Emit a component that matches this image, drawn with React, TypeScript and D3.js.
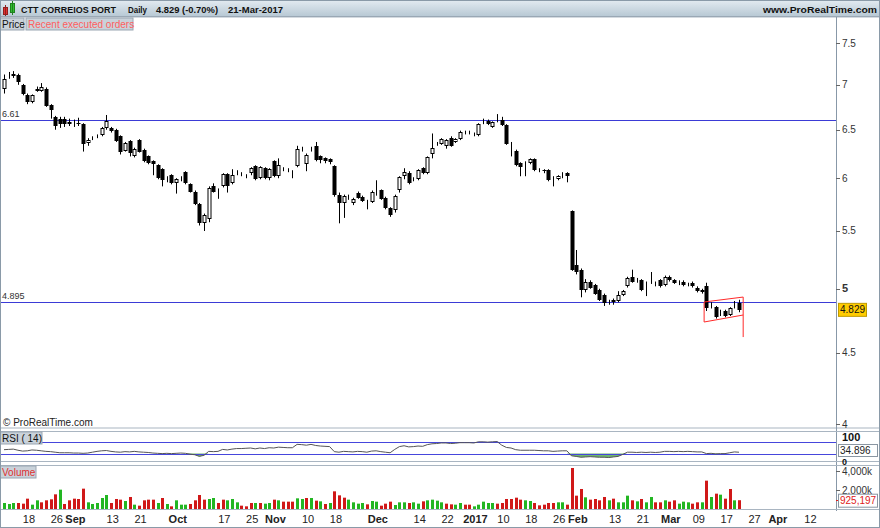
import * as d3 from 'd3'

// daily candles, Aug 10 2016 .. Mar 21 2017  [open, high, low, close]
const candles: [number, number, number, number][] = [
  [6.95, 7.12, 6.9, 7.07], [7.11, 7.15, 7.07, 7.12], [7.1, 7.16, 7.08, 7.13], [7.12, 7.13, 7.0, 7.03],
  [7.0, 7.01, 6.88, 6.9], [6.88, 6.9, 6.78, 6.8], [6.8, 6.89, 6.79, 6.88], [6.93, 6.98, 6.92, 6.95],
  [6.93, 7.02, 6.92, 6.97], [6.95, 6.97, 6.75, 6.76], [6.77, 6.78, 6.62, 6.71], [6.64, 6.65, 6.5, 6.54],
  [6.62, 6.64, 6.52, 6.56], [6.62, 6.64, 6.53, 6.56], [6.58, 6.62, 6.54, 6.56], [6.57, 6.61, 6.53, 6.57],
  [6.57, 6.63, 6.54, 6.56], [6.56, 6.57, 6.27, 6.35], [6.36, 6.41, 6.33, 6.39], [6.41, 6.43, 6.39, 6.42],
  [6.43, 6.45, 6.41, 6.44], [6.44, 6.53, 6.43, 6.52], [6.52, 6.66, 6.5, 6.59], [6.52, 6.53, 6.47, 6.49],
  [6.5, 6.51, 6.37, 6.38], [6.43, 6.44, 6.24, 6.27], [6.28, 6.37, 6.27, 6.36], [6.38, 6.39, 6.22, 6.26],
  [6.22, 6.31, 6.21, 6.3], [6.39, 6.4, 6.26, 6.27], [6.29, 6.3, 6.16, 6.17], [6.22, 6.23, 6.14, 6.15],
  [6.17, 6.18, 6.03, 6.14], [6.13, 6.14, 5.99, 6.0], [6.09, 6.1, 5.92, 5.98], [5.98, 6.02, 5.96, 5.99],
  [6.03, 6.04, 5.94, 5.95], [5.95, 6.0, 5.85, 5.99], [5.99, 6.02, 5.97, 5.99], [6.06, 6.07, 5.94, 5.95],
  [5.94, 5.95, 5.86, 5.87], [5.87, 5.88, 5.74, 5.75], [5.75, 5.76, 5.55, 5.57], [5.57, 5.66, 5.5, 5.65],
  [5.61, 5.92, 5.58, 5.9], [5.92, 5.95, 5.86, 5.87], [5.88, 5.9, 5.8, 5.88], [5.92, 6.05, 5.91, 6.04],
  [6.04, 6.05, 5.86, 5.92], [5.95, 6.09, 5.94, 6.03], [6.05, 6.08, 6.03, 6.05], [6.04, 6.06, 6.02, 6.04],
  [6.02, 6.04, 6.0, 6.02], [6.05, 6.11, 6.03, 6.1], [6.12, 6.13, 5.98, 5.99], [6.0, 6.12, 5.99, 6.11],
  [6.1, 6.11, 5.99, 6.0], [6.0, 6.1, 5.98, 6.09], [6.17, 6.18, 6.01, 6.02], [6.02, 6.2, 6.0, 6.13],
  [6.09, 6.11, 6.07, 6.09], [6.08, 6.1, 6.06, 6.08], [6.06, 6.08, 6.0, 6.06], [6.12, 6.33, 6.11, 6.3],
  [6.29, 6.32, 6.27, 6.29], [6.14, 6.25, 6.07, 6.23], [6.29, 6.32, 6.27, 6.29], [6.33, 6.37, 6.17, 6.18],
  [6.22, 6.23, 6.15, 6.18], [6.2, 6.21, 6.15, 6.17], [6.19, 6.2, 6.14, 6.16], [6.12, 6.13, 5.82, 5.84],
  [5.84, 5.86, 5.57, 5.76], [5.76, 5.84, 5.62, 5.83], [5.82, 5.84, 5.79, 5.82], [5.76, 5.81, 5.74, 5.8],
  [5.86, 5.87, 5.8, 5.81], [5.82, 5.83, 5.77, 5.78], [5.77, 5.79, 5.7, 5.77], [5.77, 5.88, 5.76, 5.87],
  [5.88, 5.98, 5.83, 5.88], [5.88, 5.89, 5.79, 5.8], [5.81, 5.82, 5.7, 5.71], [5.71, 5.72, 5.63, 5.65],
  [5.69, 5.84, 5.67, 5.83], [5.88, 6.02, 5.86, 6.01], [6.02, 6.1, 5.99, 6.06], [6.05, 6.07, 5.94, 5.95],
  [5.99, 6.01, 5.97, 5.99], [5.99, 6.09, 5.98, 6.08], [6.1, 6.11, 6.04, 6.05], [6.05, 6.22, 6.04, 6.21],
  [6.24, 6.46, 6.2, 6.31], [6.35, 6.37, 6.33, 6.35], [6.35, 6.41, 6.34, 6.4], [6.33, 6.4, 6.3, 6.39],
  [6.41, 6.43, 6.32, 6.33], [6.37, 6.41, 6.36, 6.4], [6.4, 6.49, 6.39, 6.48], [6.47, 6.49, 6.45, 6.47],
  [6.47, 6.49, 6.45, 6.47], [6.45, 6.47, 6.43, 6.45], [6.44, 6.57, 6.43, 6.56], [6.58, 6.62, 6.56, 6.58],
  [6.59, 6.61, 6.55, 6.56], [6.53, 6.59, 6.52, 6.58], [6.6, 6.67, 6.58, 6.61], [6.61, 6.64, 6.54, 6.55],
  [6.55, 6.56, 6.34, 6.35], [6.31, 6.37, 6.22, 6.31], [6.28, 6.29, 6.12, 6.13], [6.15, 6.16, 6.02, 6.11],
  [6.11, 6.17, 6.02, 6.11], [6.15, 6.2, 6.14, 6.19], [6.19, 6.2, 6.07, 6.08], [6.08, 6.1, 6.06, 6.08],
  [6.08, 6.09, 6.05, 6.07], [6.08, 6.09, 5.97, 5.98], [6.0, 6.02, 5.92, 6.0], [5.99, 6.03, 5.98, 6.02],
  [6.04, 6.06, 6.0, 6.04], [6.05, 6.06, 5.96, 6.02], [5.68, 5.69, 5.15, 5.16], [5.2, 5.33, 5.12, 5.14],
  [5.16, 5.17, 4.93, 4.99], [4.99, 5.08, 4.97, 5.06], [5.06, 5.07, 5.0, 5.01], [5.03, 5.04, 4.95, 4.96],
  [4.99, 5.0, 4.9, 4.91], [4.95, 4.96, 4.86, 4.88], [4.89, 4.91, 4.87, 4.9], [4.91, 4.92, 4.87, 4.89],
  [4.9, 4.98, 4.89, 4.95], [4.95, 4.99, 4.94, 4.98], [5.02, 5.1, 5.01, 5.09], [5.1, 5.16, 5.05, 5.06],
  [5.07, 5.09, 5.05, 5.07], [5.07, 5.08, 4.98, 4.99], [5.05, 5.06, 4.94, 5.05], [5.06, 5.14, 5.04, 5.06],
  [5.04, 5.06, 5.02, 5.04], [5.07, 5.08, 5.01, 5.02], [5.03, 5.11, 5.02, 5.1], [5.1, 5.11, 5.06, 5.07],
  [5.07, 5.08, 5.04, 5.05], [5.05, 5.07, 5.03, 5.05], [5.06, 5.07, 5.02, 5.03], [5.03, 5.05, 5.02, 5.04],
  [5.05, 5.06, 5.01, 5.02], [5.01, 5.02, 4.97, 4.98], [4.99, 5.0, 4.96, 4.97], [5.02, 5.05, 4.82, 4.84],
  [4.86, 4.89, 4.84, 4.86], [4.85, 4.86, 4.76, 4.77], [4.8, 4.83, 4.78, 4.8], [4.82, 4.83, 4.77, 4.78],
  [4.79, 4.85, 4.78, 4.84], [4.85, 4.9, 4.84, 4.863], [4.88, 4.91, 4.81, 4.829],
]

// volume in thousands
const volume = [
  632, 527, 632, 632, 562, 1088, 456, 913, 702, 913, 1018, 1544, 2036, 527, 913, 1088, 1053, 2141, 702, 527,
  632, 1158, 1474, 632, 1053, 983, 842, 1264, 456, 351, 913, 983, 983, 632, 1158, 527, 281, 913, 456, 456,
  527, 913, 1474, 983, 1053, 1158, 632, 983, 913, 1053, 702, 351, 281, 632, 632, 632, 562, 632, 983, 913,
  772, 772, 772, 1123, 1053, 1158, 1158, 878, 807, 527, 632, 1860, 1439, 1193, 983, 702, 562, 632, 491, 842,
  772, 351, 562, 772, 421, 702, 702, 632, 702, 562, 807, 913, 983, 878, 702, 562, 491, 456, 632, 456,
  456, 281, 456, 772, 632, 632, 562, 632, 1053, 1053, 1193, 983, 913, 842, 632, 386, 456, 632, 632, 702,
  702, 456, 4317, 1404, 2106, 1229, 983, 1053, 913, 1264, 913, 1088, 702, 702, 1404, 913, 807, 1053, 702, 1264,
  702, 702, 913, 772, 913, 562, 772, 702, 562, 702, 702, 2984, 1264, 1615, 1509, 1088, 2106, 913, 925.197,
]
// 1 = green bar, 0 = red bar
const volumeUp = [
  1, 1, 1, 0, 0, 0, 1, 1, 0, 0, 0, 0, 1, 0, 0, 0, 0, 0, 1, 1,
  1, 1, 1, 0, 0, 0, 1, 0, 1, 0, 0, 0, 0, 1, 0, 1, 0, 1, 1, 1,
  0, 0, 0, 0, 1, 1, 0, 0, 1, 1, 1, 0, 0, 0, 1, 0, 1, 1, 0, 1,
  0, 0, 0, 1, 1, 0, 1, 0, 1, 0, 1, 0, 0, 0, 1, 1, 1, 1, 0, 1,
  1, 0, 0, 0, 1, 1, 1, 0, 1, 1, 0, 1, 1, 1, 1, 0, 0, 1, 1, 0,
  0, 1, 1, 1, 1, 1, 0, 0, 0, 0, 0, 0, 1, 1, 0, 0, 0, 0, 0, 1,
  1, 0, 0, 0, 0, 1, 0, 0, 0, 0, 1, 0, 1, 1, 1, 0, 1, 0, 1, 1,
  0, 0, 1, 0, 0, 1, 1, 1, 0, 0, 1, 0, 1, 0, 1, 0, 0, 1, 0,
]

// RSI(14)
const rsi = [
  44, 45, 46, 42, 39, 40, 43, 42, 40, 38, 37, 35, 33, 33, 33, 32, 32, 31, 32, 35,
  38, 40, 41, 38, 36, 35, 37, 36, 38, 36, 35, 34, 32, 31, 30, 31, 30, 31, 32, 31,
  28, 26, 20, 24, 38, 37, 38, 45, 43, 46, 48, 48, 49, 50, 47, 50, 48, 51, 50, 53,
  52, 51, 51, 63, 62, 60, 63, 59, 57, 56, 55, 37, 35, 38, 37, 36, 38, 37, 35, 39,
  40, 37, 35, 33, 45, 55, 58, 54, 55, 57, 56, 62, 65, 66, 68, 68, 66, 67, 69, 69,
  69, 68, 72, 72, 71, 72, 73, 60, 52, 50, 44, 42, 42, 42, 42, 41, 40, 40, 38, 39,
  40, 40, 22, 20, 17, 18, 19, 18, 17, 17, 16, 18, 20, 27, 35, 35, 34, 35, 34, 35,
  34, 35, 38, 38, 37, 38, 37, 38, 37, 36, 36, 30, 31, 29, 30, 30, 33, 36, 34.896,
]

const level661 = 6.61
const level4895 = 4.895

// hand-drawn red channel on the last sessions
const channelTop: [number, number][] = [[150.5, 4.892], [158.9, 4.932]]
const channelBottom: [number, number][] = [[150.5, 4.733], [158.9, 4.788]]
const channelStem = 4.617

const priceTicks = [4, 4.5, 5, 5.5, 6, 6.5, 7, 7.5]

const tickDates = [
  '2016-08-18', '2016-08-26', '2016-09-01', '2016-09-13', '2016-09-21', '2016-10-03', '2016-10-17',
  '2016-10-25', '2016-11-01', '2016-11-10', '2016-11-18', '2016-12-01', '2016-12-14', '2016-12-22',
  '2017-01-02', '2017-01-10', '2017-01-18', '2017-01-26', '2017-02-01', '2017-02-13', '2017-02-21',
  '2017-03-01', '2017-03-09', '2017-03-17', '2017-03-27', '2017-04-03', '2017-04-12',
]
const tickLabels = [
  '18', '26', 'Sep', '13', '21', 'Oct', '17', '25', 'Nov', '10', '18', 'Dec', '14', '22',
  '2017', '10', '18', '26', 'Feb', '13', '21', 'Mar', '09', '17', '27', 'Apr', '12',
]
const boldLabels = ['Sep', 'Oct', 'Nov', 'Dec', '2017', 'Feb', 'Mar', 'Apr']
const holidays = ['2016-12-26']

// header pieces: text, left x, width
const headerParts: [string, number, number][] = [
  ['CTT CORREIOS PORT', 21, 95],
  ['Daily', 128, 19],
  ['4.829 (-0.70%)', 156, 62],
  ['21-Mar-2017', 228, 55],
  ['www.ProRealTime.com', 763, 114],
]

// trading days (weekdays minus market holidays) from the first session
const fmt = d3.timeFormat('%Y-%m-%d')
const days: string[] = []
for (let d = new Date(2016, 7, 10); days.length < 185; d = d3.timeDay.offset(d, 1)) {
  const wd = d.getDay()
  if (wd === 0 || wd === 6 || holidays.includes(fmt(d))) continue
  days.push(fmt(d))
}

const FONT = '"Liberation Sans", Arial, sans-serif'
const W = 880
const AXIS_X = 836
const GRID = '#a9b5c1'

const x = d3.scaleLinear().domain([0, candles.length - 1]).range([4, 739])
const py = d3.scaleLog().domain([4, 7.5]).range([424, 43])
const ry = d3.scaleLinear().domain([0, 100]).range([462, 434])
const vy = d3.scaleLinear().domain([0, 4000]).range([509, 471])

const px = (i: number) => Math.round(x(i))

export default function App() {
  const rsiLine = d3.line<number>().x((_, i) => x(i)).y((v) => ry(v))(rsi) ?? ''
  const rsiLow = d3.area<number>().x((_, i) => x(i)).y0(ry(30)).y1((v) => ry(Math.min(v, 30)))(rsi) ?? ''
  const rsiHigh = d3.area<number>().x((_, i) => x(i)).y0(ry(70)).y1((v) => ry(Math.max(v, 70)))(rsi) ?? ''

  const last = candles[candles.length - 1][3]
  const lastY = py(last)

  return (
    <svg width={W} height={528} style={{ position: 'absolute', left: 0, top: 0, fontFamily: FONT }}>
      <defs>
        <linearGradient id="hdr" x1="0" y1="0" x2="0" y2="1">
          <stop offset="0" stopColor="#e3ebf1" />
          <stop offset="1" stopColor="#b6c7d3" />
        </linearGradient>
      </defs>
      <rect width={W} height={528} fill="#fff" />

      {/* header */}
      <rect x={0} y={0} width={W} height={17} fill="url(#hdr)" />
      <line x1={0} x2={W} y1={16.5} y2={16.5} stroke="#8a9aa8" />
      <rect x={3.5} y={7.5} width={4} height={7} fill="#e03030" stroke="#902020" />
      <line x1={5.5} x2={5.5} y1={5} y2={16} stroke="#902020" />
      <rect x={10.5} y={3.5} width={4} height={9} fill="#30c030" stroke="#208020" />
      <line x1={12.5} x2={12.5} y1={1} y2={15} stroke="#208020" />
      <g fontSize={9.5} fontWeight="bold" fill="#111">
        {headerParts.map(([t, hx, hw]) => (
          <text key={t} x={hx} y={12.5} textLength={hw} lengthAdjust="spacingAndGlyphs">{t}</text>
        ))}
      </g>

      {/* price panel */}
      <rect x={0.5} y={17} width={W - 1} height={411} fill="none" stroke={GRID} />
      <rect x={0} y={18} width={24} height={12} fill="#c9d2da" stroke="#9aa6b2" />
      <text x={2} y={27.5} fontSize={10} fill="#111">Price</text>
      <rect x={26} y={18} width={107} height={12} fill="#c9d2da" stroke="#9aa6b2" />
      <text x={28} y={27.5} fontSize={10} fill="#ff5e5e">Recent executed orders</text>

      {[level661, level4895].map((l) => (
        <g key={l}>
          <line x1={0} x2={AXIS_X} y1={Math.round(py(l)) + 0.5} y2={Math.round(py(l)) + 0.5} stroke="#3b3bd6" />
          <text x={2} y={py(l) - 3} fontSize={9} fill="#333">{String(l)}</text>
        </g>
      ))}

      {candles.map(([o, h, l, c], i) => {
        const cx = px(i)
        const up = c >= o
        const top = Math.round(py(Math.max(o, c)))
        const bot = Math.round(py(Math.min(o, c)))
        const bh = Math.max(1, bot - top)
        return (
          <g key={i}>
            <line x1={cx + 0.5} x2={cx + 0.5} y1={py(h)} y2={py(l)} stroke="#000" />
            {up ? (
              <rect x={cx - 1} y={top + 0.5} width={3} height={Math.max(0, bh - 1)} fill="#fff" stroke="#000" />
            ) : (
              <rect x={cx - 1.5} y={top} width={4} height={bh} fill="#000" />
            )}
          </g>
        )
      })}

      {/* channel */}
      <g stroke="#ff2a2a" fill="none">
        <line x1={x(channelTop[0][0])} y1={py(channelTop[0][1])} x2={x(channelTop[1][0])} y2={py(channelTop[1][1])} />
        <line x1={x(channelBottom[0][0])} y1={py(channelBottom[0][1])} x2={x(channelBottom[1][0])} y2={py(channelBottom[1][1])} />
        <line x1={x(channelTop[0][0])} y1={py(channelTop[0][1])} x2={x(channelBottom[0][0])} y2={py(channelBottom[0][1])} />
        <line x1={x(channelTop[1][0])} y1={py(channelTop[1][1])} x2={x(channelTop[1][0])} y2={py(channelStem)} />
      </g>

      <text x={3} y={426} fontSize={10} fill="#222">© ProRealTime.com</text>

      {/* price axis */}
      <line x1={AXIS_X + 0.5} x2={AXIS_X + 0.5} y1={17} y2={511} stroke="#8898a8" />
      {priceTicks.map((t) => (
        <g key={t}>
          <line x1={AXIS_X} x2={AXIS_X + 4} y1={Math.round(py(t)) + 0.5} y2={Math.round(py(t)) + 0.5} stroke="#666" />
          <text x={AXIS_X + 6} y={py(t) + 3.5} fontSize={t === 5 ? 11 : 10} fontWeight={t === 5 ? 'bold' : 'normal'} fill="#333">
            {String(t)}
          </text>
        </g>
      ))}
      <rect x={838.5} y={lastY - 6.5} width={28} height={13} fill="#ffcc00" stroke="#c09a00" />
      <text x={840} y={lastY + 3.5} fontSize={10} fill="#111">{last.toFixed(3)}</text>

      {/* RSI panel */}
      <rect x={0.5} y={431.5} width={W - 1} height={30} fill="none" stroke={GRID} />
      <path d={rsiHigh} fill="#7a7aff" />
      <path d={rsiLow} fill="#6fb56f" />
      <line x1={0} x2={AXIS_X} y1={Math.round(ry(70)) + 0.5} y2={Math.round(ry(70)) + 0.5} stroke="#4646dc" />
      <line x1={0} x2={AXIS_X} y1={Math.round(ry(30)) + 0.5} y2={Math.round(ry(30)) + 0.5} stroke="#4646dc" />
      <path d={rsiLine} fill="none" stroke="#555" strokeWidth={1} />
      <rect x={0} y={432} width={42} height={12} fill="#c9d2da" stroke="#9aa6b2" />
      <text x={2} y={441.5} fontSize={10} fill="#111">RSI ( 14)</text>
      <text x={AXIS_X + 6} y={441} fontSize={11} fontWeight="bold" fill="#111">100</text>
      <text x={AXIS_X + 6} y={465} fontSize={9} fontWeight="bold" fill="#111">0</text>
      <rect x={838.5} y={444.5} width={39} height={12} fill="#fff" stroke="#8a96a2" />
      <text x={840} y={454} fontSize={10} fill="#222">{rsi[rsi.length - 1].toFixed(3)}</text>

      {/* volume panel */}
      <rect x={0.5} y={465.5} width={W - 1} height={44} fill="none" stroke={GRID} />
      {volume.map((v, i) => (
        <rect key={i} x={px(i) - 1} y={vy(v)} width={3} height={vy(0) - vy(v)} fill={volumeUp[i] ? '#22b622' : '#d01818'} />
      ))}
      <rect x={0} y={466} width={36} height={12} fill="#c9d2da" stroke="#9aa6b2" />
      <text x={2} y={475.5} fontSize={10} fill="#e03030">Volume</text>
      {[4000, 2000].map((t) => (
        <g key={t}>
          <line x1={AXIS_X} x2={AXIS_X + 4} y1={Math.round(vy(t)) + 0.5} y2={Math.round(vy(t)) + 0.5} stroke="#666" />
          <text x={AXIS_X + 6} y={vy(t) + 3.5} fontSize={10} fill="#333">{d3.format(',')(t)}k</text>
        </g>
      ))}
      <line x1={AXIS_X} x2={AXIS_X + 4} y1={Math.round(vy(925.197)) + 0.5} y2={Math.round(vy(925.197)) + 0.5} stroke="#e02020" />
      <rect x={838.5} y={vy(925.197) - 6} width={39} height={13} fill="#fff" stroke="#8a96a2" />
      <text x={840} y={vy(925.197) + 4} fontSize={10} fill="#e02020">925,197</text>

      {/* date axis */}
      {tickDates.map((d, k) => {
        const i = days.indexOf(d)
        const bold = boldLabels.includes(tickLabels[k])
        return (
          <text key={d} x={x(i) - 3} y={523} fontSize={11} textAnchor="middle" fontWeight={bold ? 'bold' : 'normal'} fill="#222">
            {tickLabels[k]}
          </text>
        )
      })}
      <rect x={0.5} y={0.5} width={W - 1} height={527} fill="none" stroke="#8a9aa8" />
    </svg>
  )
}
